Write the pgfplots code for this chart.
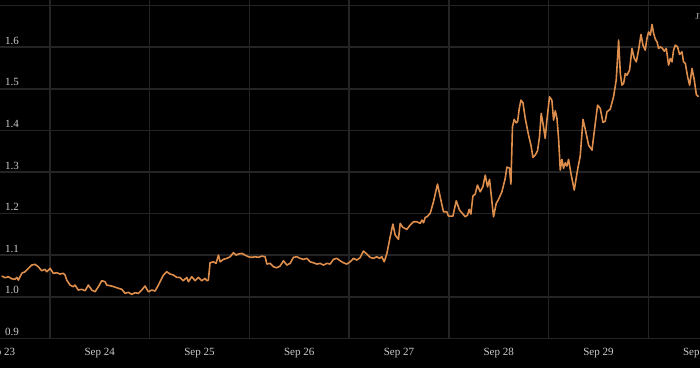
\documentclass[border=0pt]{standalone}
\usepackage{pgfplots}
\pgfplotsset{compat=1.18}
\usepackage{fontspec}
\setmainfont{Liberation Serif}
\definecolor{lineor}{RGB}{221,141,76}
\definecolor{gridc}{RGB}{36,36,36}
\definecolor{labc}{RGB}{205,205,205}
\begin{document}
\begin{tikzpicture}
\path[use as bounding box, fill=black] (0,-29.7pt) rectangle (700pt,338.3pt);
\begin{axis}[
  at={(0,0)}, anchor=south west,
  scale only axis, width=700pt, height=338.3pt,
  xmin=0, xmax=7.018, ymin=0.9, ymax=1.7137,
  axis line style={draw=none},
  major tick length=0pt, minor tick length=0pt,
  xtick={0,1,2,3,4,5,6,7},
  xticklabels={Sep 23,Sep 24,Sep 25,Sep 26,Sep 27,Sep 28,Sep 29,Sep 30},
  minor xtick={0.5,1.5,2.5,3.5,4.5,5.5,6.5},
  xminorgrids=true, xmajorgrids=false,
  ytick={0.9,1.0,1.1,1.2,1.3,1.4,1.5,1.6,1.7},
  yticklabels={0.9,1.0,1.1,1.2,1.3,1.4,1.5,1.6,{}},
  ymajorgrids=true,
  grid style={draw=gridc, line width=1.6pt},
  minor grid style={draw=gridc, line width=1.6pt},
  /pgf/number format/assume math mode=true,
  ticklabel style={font=\fontsize{11}{13}\selectfont, text=labc, inner sep=0pt},
  xticklabel style={anchor=north, yshift=-10pt},
  yticklabel style={anchor=south west, xshift=5pt, yshift=2.5pt},
  clip=false,
]
\addplot[lineor, line width=1.6pt, line join=round] table {
x y
0.017 1.0498
0.050 1.0457
0.083 1.0481
0.117 1.0433
0.150 1.0418
0.168 1.0466
0.184 1.0401
0.218 1.0563
0.251 1.0601
0.284 1.0683
0.318 1.0762
0.351 1.0779
0.384 1.0721
0.418 1.0625
0.451 1.0659
0.468 1.0601
0.502 1.0683
0.535 1.0563
0.569 1.0577
0.602 1.0546
0.635 1.0563
0.652 1.0522
0.669 1.0401
0.702 1.0281
0.735 1.0240
0.752 1.0281
0.785 1.0161
0.819 1.0178
0.853 1.0144
0.886 1.0281
0.920 1.0161
0.953 1.0120
0.986 1.0240
1.020 1.0385
1.053 1.0361
1.070 1.0281
1.120 1.0257
1.171 1.0216
1.221 1.0178
1.254 1.0082
1.287 1.0106
1.321 1.0058
1.354 1.0096
1.387 1.0082
1.421 1.0161
1.454 1.0257
1.487 1.0120
1.522 1.0161
1.555 1.0137
1.588 1.0281
1.638 1.0522
1.672 1.0601
1.705 1.0546
1.738 1.0522
1.772 1.0466
1.805 1.0462
1.838 1.0385
1.873 1.0466
1.889 1.0361
1.923 1.0481
1.956 1.0385
1.989 1.0466
2.023 1.0385
2.056 1.0442
2.073 1.0385
2.089 1.0401
2.106 1.0817
2.139 1.0841
2.166 1.0803
2.190 1.1002
2.207 1.0841
2.240 1.0899
2.274 1.0923
2.307 1.0962
2.340 1.1058
2.367 1.1002
2.390 1.1026
2.424 1.1043
2.457 1.1002
2.490 1.0962
2.525 1.0947
2.558 1.0962
2.591 1.0947
2.625 1.0978
2.658 1.0962
2.675 1.0786
2.708 1.0803
2.741 1.0721
2.775 1.0697
2.808 1.0738
2.842 1.0865
2.876 1.0762
2.909 1.0803
2.942 1.0947
2.976 1.0962
3.009 1.0923
3.042 1.0899
3.076 1.0923
3.109 1.0841
3.142 1.0817
3.176 1.0786
3.210 1.0803
3.243 1.0762
3.277 1.0803
3.310 1.0786
3.343 1.0899
3.377 1.0923
3.410 1.0865
3.443 1.0817
3.477 1.0786
3.511 1.0841
3.544 1.0923
3.578 1.0882
3.611 1.0942
3.644 1.1099
3.678 1.1026
3.711 1.0947
3.744 1.0923
3.778 1.0962
3.804 1.0923
3.828 1.0962
3.852 1.0841
3.879 1.1043
3.912 1.1442
3.939 1.1748
3.962 1.1483
3.995 1.1380
4.012 1.1764
4.039 1.1668
4.079 1.1620
4.112 1.1724
4.145 1.1803
4.180 1.1803
4.213 1.1764
4.230 1.1844
4.246 1.1779
4.263 1.1909
4.280 1.1923
4.313 1.2005
4.346 1.2284
4.386 1.2709
4.413 1.2404
4.446 1.2043
4.480 1.2043
4.496 1.1940
4.541 1.1940
4.574 1.2308
4.607 1.2084
4.631 1.2019
4.664 1.1923
4.687 1.1964
4.704 1.2101
4.721 1.1988
4.741 1.2421
4.764 1.2469
4.787 1.2685
4.814 1.2524
4.841 1.2644
4.865 1.2925
4.888 1.2644
4.908 1.2822
4.948 1.1923
4.975 1.2245
4.998 1.2341
5.032 1.2524
5.065 1.2846
5.082 1.3118
5.108 1.3094
5.122 1.2709
5.138 1.4087
5.155 1.4264
5.175 1.4183
5.189 1.4207
5.206 1.4529
5.223 1.4728
5.243 1.4663
5.266 1.4288
5.299 1.3887
5.323 1.3647
5.343 1.3351
5.366 1.3406
5.389 1.3510
5.409 1.3846
5.426 1.4409
5.449 1.4087
5.466 1.3808
5.483 1.4248
5.509 1.4808
5.533 1.4728
5.550 1.4248
5.567 1.4471
5.584 1.4288
5.600 1.3808
5.617 1.3046
5.634 1.3303
5.650 1.3087
5.667 1.3221
5.684 1.3142
5.700 1.3303
5.724 1.2966
5.757 1.2565
5.790 1.3046
5.817 1.3382
5.845 1.4264
5.868 1.4024
5.901 1.3647
5.935 1.3526
5.968 1.4168
5.991 1.4608
6.018 1.4529
6.045 1.4192
6.068 1.4224
6.085 1.4447
6.118 1.4512
6.151 1.4808
6.178 1.5209
6.202 1.6171
6.219 1.5370
6.235 1.5089
6.252 1.5130
6.269 1.5370
6.286 1.5329
6.312 1.5450
6.336 1.5971
6.359 1.5731
6.379 1.5649
6.402 1.5930
6.426 1.6308
6.446 1.6050
6.469 1.5930
6.486 1.6212
6.502 1.6370
6.520 1.6291
6.537 1.6548
6.553 1.6332
6.570 1.6195
6.587 1.6130
6.603 1.5971
6.620 1.6010
6.637 1.5986
6.660 1.5906
6.680 1.5971
6.703 1.5570
6.720 1.5731
6.737 1.5649
6.753 1.5930
6.770 1.6050
6.793 1.6010
6.813 1.5827
6.837 1.5889
6.853 1.5649
6.871 1.5611
6.894 1.5288
6.914 1.5089
6.938 1.5490
6.961 1.5209
6.981 1.4865
7.004 1.4808
};
\node[anchor=base west, inner sep=0pt, font=\fontsize{9}{10}\selectfont, text=labc] at (axis cs:6.972,1.6675) {JPY};
\end{axis}
\end{tikzpicture}
\end{document}
